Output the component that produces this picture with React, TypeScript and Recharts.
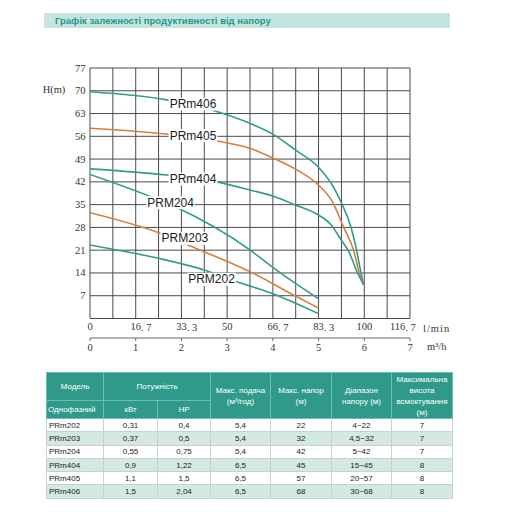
import React from 'react';
import { LineChart, Line, XAxis, YAxis, CartesianGrid, ReferenceDot } from 'recharts';

// ---------- chart data ----------
const flowTicks = [0, 8.33, 16.67, 25, 33.33, 41.67, 50, 58.33, 66.67, 75, 83.33, 91.67, 100, 108.33, 116.67];
const flowTickLabels = ['0', '', '16.7', '', '33.3', '', '50', '', '66.7', '', '83.3', '', '100', '', '116.7'];
const cubicTicks = [0, 1, 2, 3, 4, 5, 6, 7];
const headTicks = [0, 7, 14, 21, 28, 35, 42, 49, 56, 63, 70, 77];

const prm406 = [
  { q: 0, h: 69.7 }, { q: 28, h: 67.2 }, { q: 45.6, h: 63.8 }, { q: 58.3, h: 60 },
  { q: 66.8, h: 56.6 }, { q: 75.4, h: 51.5 }, { q: 83.3, h: 46.5 }, { q: 88.7, h: 40.5 },
  { q: 91.7, h: 35.5 }, { q: 95.2, h: 28 }, { q: 97.2, h: 21 }, { q: 98.7, h: 14.5 }, { q: 99.8, h: 10.3 },
];
const prm405 = [
  { q: 0, h: 58.5 }, { q: 28, h: 56.7 }, { q: 46.2, h: 54.6 }, { q: 58.3, h: 52.3 },
  { q: 66.8, h: 49.3 }, { q: 75.4, h: 45.7 }, { q: 83.3, h: 41 }, { q: 88.3, h: 36 },
  { q: 92.5, h: 28 }, { q: 96.1, h: 21 }, { q: 98.1, h: 14.3 }, { q: 99.8, h: 10.3 },
];
const prm404 = [
  { q: 0, h: 46 }, { q: 28, h: 44.1 }, { q: 46.2, h: 42 }, { q: 58.3, h: 39.5 },
  { q: 66.8, h: 37.6 }, { q: 74.9, h: 34.9 }, { q: 83.3, h: 31.8 }, { q: 87.7, h: 29 },
  { q: 91.7, h: 24 }, { q: 94.4, h: 20.5 }, { q: 97.4, h: 14.3 }, { q: 99.8, h: 10.3 },
];
const prm204 = [
  { q: 0, h: 44.3 }, { q: 20.5, h: 38 }, { q: 32.2, h: 33.9 }, { q: 58.3, h: 21.1 },
  { q: 66.4, h: 15.9 }, { q: 74.9, h: 10.8 }, { q: 83.3, h: 6.1 },
];
const prm203 = [
  { q: 0, h: 32.5 }, { q: 25.5, h: 26.2 }, { q: 37.7, h: 21.9 }, { q: 58.3, h: 14.4 },
  { q: 74.9, h: 6.9 }, { q: 83.3, h: 3.2 },
];
const prm202 = [
  { q: 0, h: 22.6 }, { q: 8.3, h: 21.3 }, { q: 25, h: 18.5 }, { q: 41.7, h: 14.9 },
  { q: 53.5, h: 11.3 }, { q: 66.4, h: 7.7 }, { q: 83.3, h: 1.5 },
];

const curveLabels = [
  { name: 'PRm406', q: 37.55, h: 65.9 },
  { name: 'PRm405', q: 37.55, h: 56.2 },
  { name: 'PRm404', q: 37.55, h: 42.9 },
  { name: 'PRM204', q: 29.4, h: 35.6 },
  { name: 'PRM203', q: 34.6, h: 24.65 },
  { name: 'PRM202', q: 44.3, h: 12.05 },
];

// ---------- table data ----------
const tableModels = ['PRm202', 'PRm203', 'PRm204', 'PRm404', 'PRm405', 'PRm406'];
const powerKw = ['0,31', '0,37', '0,55', '0,9', '1,1', '1,5'];
const powerHp = ['0,4', '0,5', '0,75', '1,22', '1,5', '2,04'];
const maxFlow = ['5,4', '5,4', '5,4', '6,5', '6,5', '6,5'];
const maxHead = ['22', '32', '42', '45', '57', '68'];
const headRange = ['4~22', '4,5~32', '5~42', '15~45', '20~57', '30~68'];
const suctionHeight = ['7', '7', '7', '8', '8', '8'];

// the m³/h scale rows (used only to feed the second x axis)
const cubicRows = cubicTicks.map((v) => ({ m3: v }));

const TEAL = '#2e9e8b';
const ORANGE = '#d77f3f';
const GRID = '#4a4a4a';
const AXIS_TEXT = '#333';
const SERIF = '"Liberation Serif", "DejaVu Serif", serif';
const SANS = '"Liberation Sans", Arial, sans-serif';

const FlowTick = (props: any) => {
  const { x, y, payload } = props;
  const idx = flowTicks.indexOf(payload.value);
  const label = flowTickLabels[idx];
  if (!label) return <g />;
  const parts = label.split('.');
  const intPart = parts[0];
  const decPart = parts[1];
  const intW = intPart.length * 5.25;
  const isLast = idx === flowTicks.length - 1;
  const startX = isLast ? x - 20 : x - intW / 2;
  return (
    <text x={startX} y={y + 8} dominantBaseline="central" fontSize={10.5} fontFamily={SERIF} fill={AXIS_TEXT}>
      {intPart}
      {decPart !== undefined ? <tspan>.</tspan> : null}
      {decPart !== undefined ? <tspan dx={2.6}>{decPart}</tspan> : null}
    </text>
  );
};

const CubicTick = (props: any) => {
  const { x, y, payload } = props;
  return (
    <text x={x} y={y + 6} textAnchor="middle" dominantBaseline="central" fontSize={10.5} fontFamily={SERIF} fill={AXIS_TEXT}>
      {payload.value}
    </text>
  );
};

const HeadTick = (props: any) => {
  const { x, y, payload } = props;
  if (payload.value === 0) return <g />;
  return (
    <text x={x - 4.5} y={y} textAnchor="end" dominantBaseline="central" fontSize={10.5} fontFamily={SERIF} fill={AXIS_TEXT}>
      {payload.value}
    </text>
  );
};

const makeCurveLabel = (name: string) => (p: any) => {
  const vb = p.viewBox || {};
  const cx = (vb.x || 0) + (vb.width || 0) / 2;
  const cy = (vb.y || 0) + (vb.height || 0) / 2;
  const w = name.length * 7.8 + 2;
  return (
    <g>
      <rect x={cx - w / 2} y={cy - 6.5} width={w} height={13} fill="#ffffff" />
      <text x={cx} y={cy} textAnchor="middle" dominantBaseline="central" fontSize={12} fontFamily={SANS} fill="#1a1a1a">
        {name}
      </text>
    </g>
  );
};

const series = [
  { key: 'PRm406', data: prm406, color: TEAL },
  { key: 'PRm405', data: prm405, color: ORANGE },
  { key: 'PRm404', data: prm404, color: TEAL },
  { key: 'PRM204', data: prm204, color: TEAL },
  { key: 'PRM203', data: prm203, color: ORANGE },
  { key: 'PRM202', data: prm202, color: TEAL },
];

const headCell: React.CSSProperties = {
  background: '#2f9a8a',
  color: '#ffffff',
  border: '1px solid #6dbdb0',
  textAlign: 'center',
  padding: 0,
  lineHeight: '11px',
  fontWeight: 'normal',
};

const colWidths = [57, 54, 53, 60, 61, 60, 61];

export default function App() {
  return (
    <div style={{ position: 'absolute', left: 0, top: 0, width: 512, height: 512, background: '#ffffff', overflow: 'hidden' }}>
      <div
        style={{
          position: 'absolute', left: 44, top: 13, width: 406, height: 15, background: '#c6e4df',
          fontFamily: SANS, fontWeight: 'bold', fontSize: 9.5, color: '#1c9a89', lineHeight: '15px', paddingLeft: 11, boxSizing: 'border-box',
        }}
      >
        Графік залежності продуктивності від напору
      </div>

      <div style={{ position: 'absolute', left: 0, top: 0 }}>
        <LineChart width={512} height={360} data={cubicRows} margin={{ top: 68, right: 102, left: 60, bottom: 0 }}>
          <CartesianGrid xAxisId="flow" yAxisId={0} stroke={GRID} strokeWidth={1} />
          <XAxis
            xAxisId="flow" dataKey="q" type="number" domain={[0, 116.67]} ticks={flowTicks} interval={0}
            height={19.5} axisLine={false} tickLine={false} tickSize={0} tickMargin={0} tick={<FlowTick />}
            allowDataOverflow
            label={{
              content: (p: any) => (
                <text x={p.viewBox.x + p.viewBox.width + 13} y={p.viewBox.y + 9.5} dominantBaseline="central" fontSize={10.5} letterSpacing={1} fontFamily={SERIF} fill={AXIS_TEXT}>
                  l/min
                </text>
              ),
            }}
          />
          <XAxis
            xAxisId="m3" dataKey="m3" type="number" domain={[0, 7]} ticks={cubicTicks} interval={0}
            height={22} axisLine={{ stroke: '#666' }} tickLine={{ stroke: '#666' }} tickSize={3} tickMargin={0}
            tick={<CubicTick />} allowDataOverflow
            label={{
              content: (p: any) => (
                <text x={p.viewBox.x + p.viewBox.width + 17} y={p.viewBox.y + 8} dominantBaseline="central" fontSize={10.5} fontFamily={SERIF} fill={AXIS_TEXT}>
                  m³/h
                </text>
              ),
            }}
          />
          <YAxis
            yAxisId={0} type="number" domain={[0, 77]} ticks={headTicks} interval={0} width={30}
            axisLine={false} tickLine={false} tickSize={0} tickMargin={0} tick={<HeadTick />}
            label={{
              content: (p: any) => (
                <text x={p.viewBox.x - 6} y={p.viewBox.y + 21} textAnchor="middle" dominantBaseline="central" fontSize={10.5} fontFamily={SERIF} fill={AXIS_TEXT}>
                  H(m)
                </text>
              ),
            }}
          />
          {series.map((s) => (
            <Line
              key={s.key} name={s.key} data={s.data} dataKey="h" xAxisId="flow" yAxisId={0}
              type="monotone" stroke={s.color} strokeWidth={1.6} dot={false} activeDot={false}
              isAnimationActive={false}
            />
          ))}
          {curveLabels.map((l) => (
            <ReferenceDot
              key={l.name} x={l.q} y={l.h} xAxisId="flow" yAxisId={0} r={0}
              fill="none" stroke="none" ifOverflow="visible"
              label={{ content: makeCurveLabel(l.name) }}
            />
          ))}
        </LineChart>
      </div>

      <table
        style={{
          position: 'absolute', left: 46, top: 372, width: 406, borderCollapse: 'collapse', tableLayout: 'fixed',
          fontFamily: SANS, fontSize: 8, color: '#222',
        }}
      >
        <colgroup>
          {colWidths.map((w, i) => (
            <col key={i} style={{ width: w }} />
          ))}
        </colgroup>
        <thead>
          <tr style={{ height: 28 }}>
            <th style={headCell}>Модель</th>
            <th style={headCell} colSpan={2}>Потужність</th>
            <th style={headCell} rowSpan={2}>Макс. подача<br />(м³/год)</th>
            <th style={headCell} rowSpan={2}>Макс. напор<br />(м)</th>
            <th style={headCell} rowSpan={2}>Діапазон<br />напору (м)</th>
            <th style={headCell} rowSpan={2}>Максимальна<br />висота<br />всмоктування<br />(м)</th>
          </tr>
          <tr style={{ height: 18 }}>
            <th style={{ ...headCell, textAlign: 'left', paddingLeft: 1 }}>Однофазний</th>
            <th style={headCell}>кВт</th>
            <th style={headCell}>HP</th>
          </tr>
        </thead>
        <tbody>
          {tableModels.map((m, i) => {
            const bg = i % 2 === 1 ? '#d4e9e3' : '#ffffff';
            const cell: React.CSSProperties = {
              background: bg, border: '1px solid #c5d3d0', textAlign: 'center', padding: 0, lineHeight: '11px', height: 12.3,
            };
            return (
              <tr key={m}>
                <td style={{ ...cell, textAlign: 'left', paddingLeft: 2 }}>{m}</td>
                <td style={cell}>{powerKw[i]}</td>
                <td style={cell}>{powerHp[i]}</td>
                <td style={cell}>{maxFlow[i]}</td>
                <td style={cell}>{maxHead[i]}</td>
                <td style={cell}>{headRange[i]}</td>
                <td style={cell}>{suctionHeight[i]}</td>
              </tr>
            );
          })}
        </tbody>
      </table>
    </div>
  );
}
